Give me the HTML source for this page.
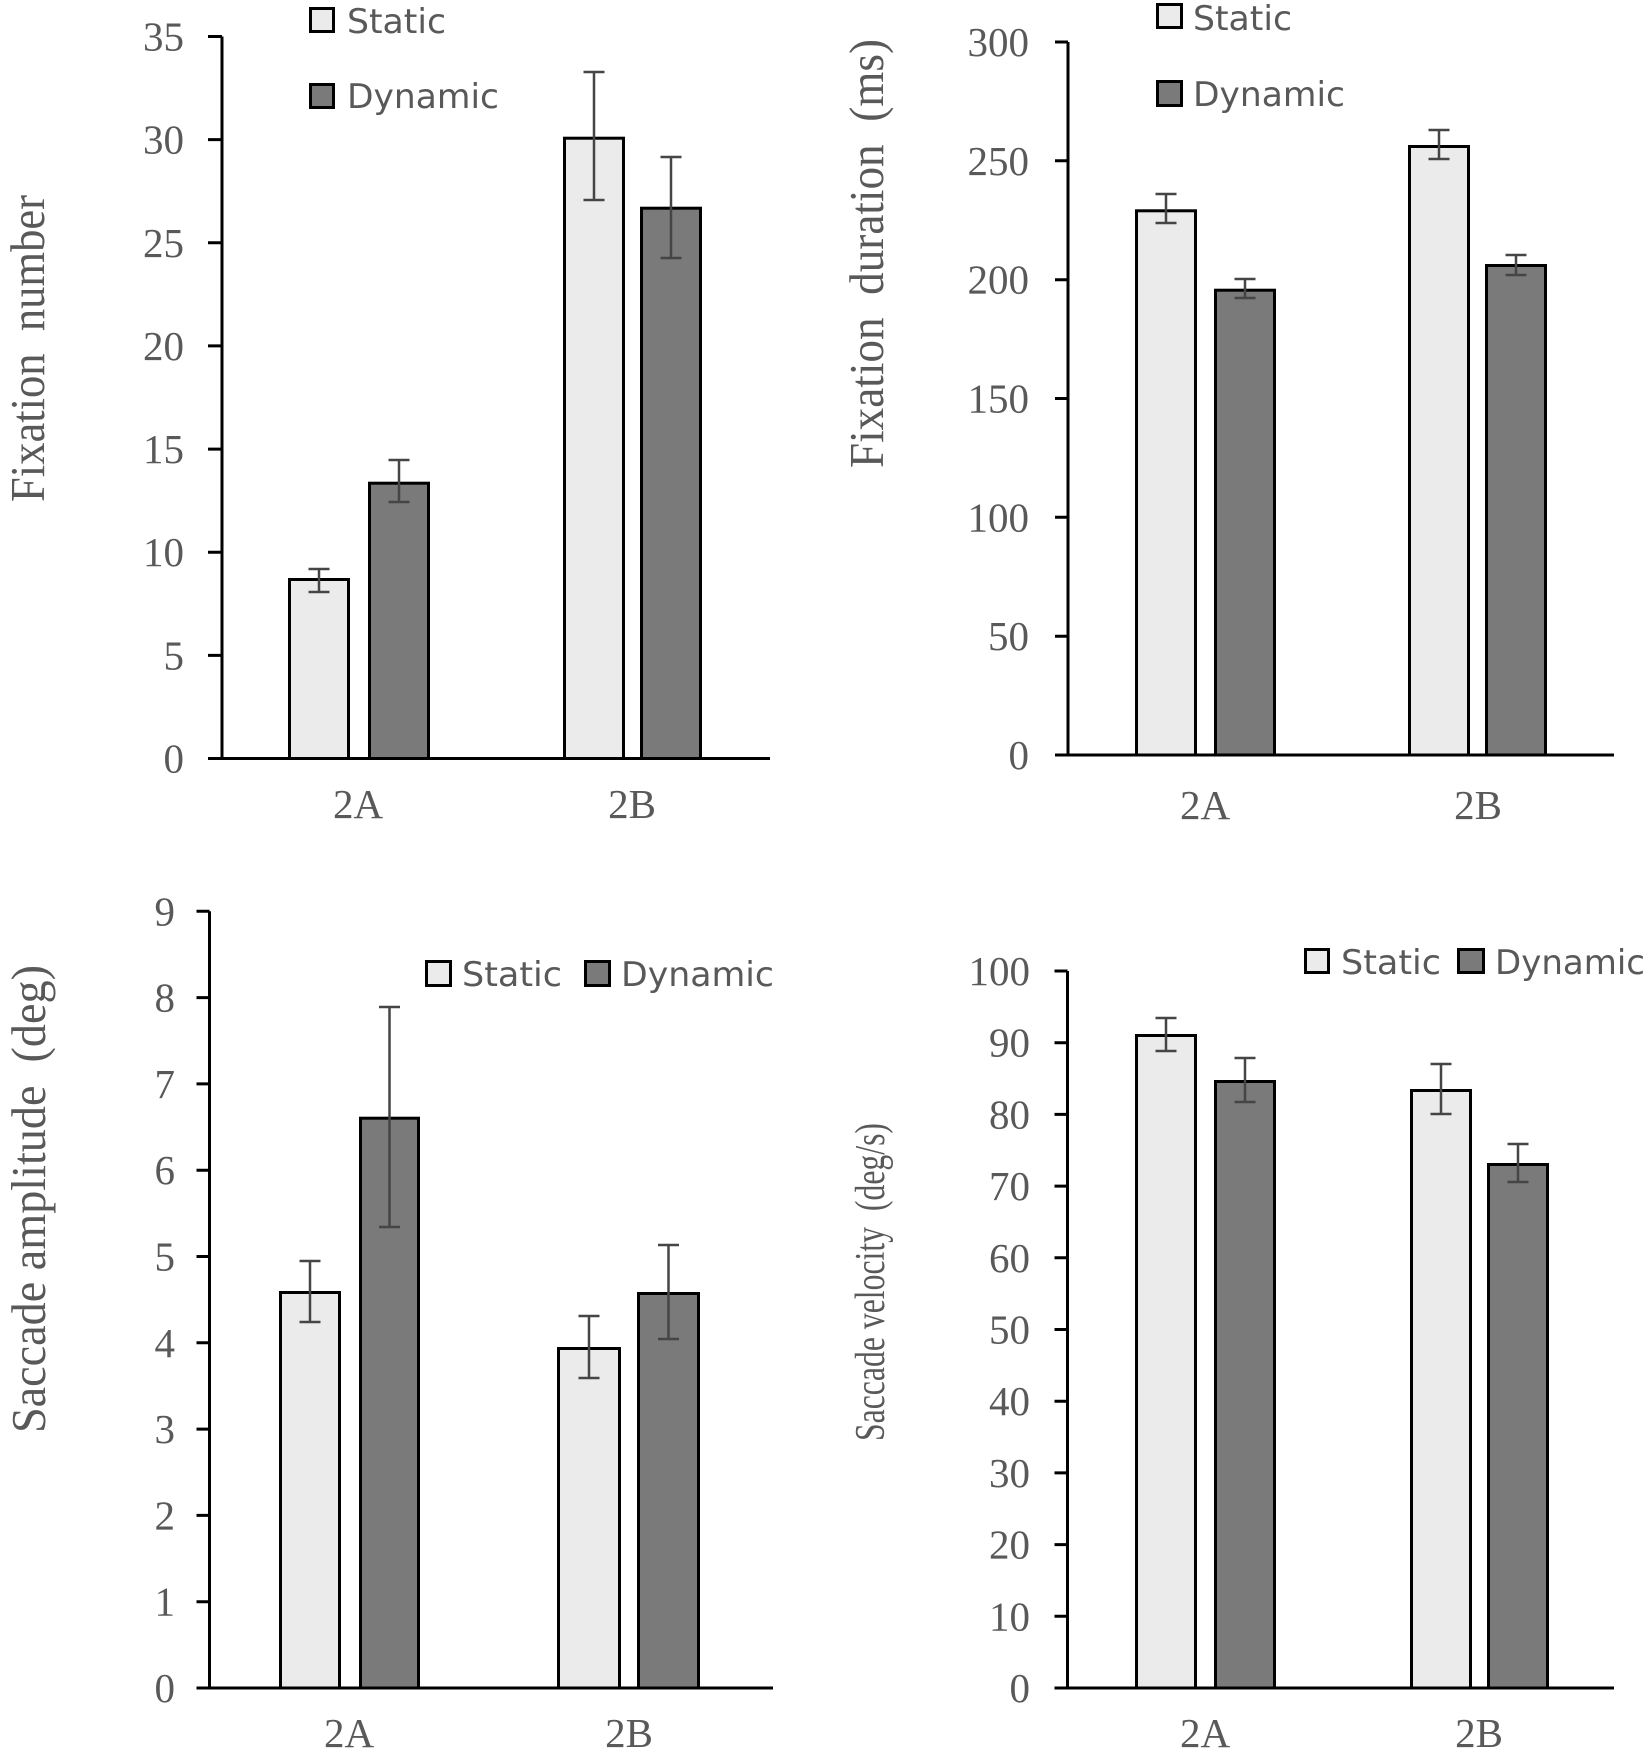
<!DOCTYPE html>
<html><head><meta charset="utf-8"><style>
html,body{margin:0;padding:0;background:#fff;}
svg{display:block;}
.tk{font-family:"Liberation Serif",serif;font-size:41px;fill:#595959;}
.ttl{font-family:"Liberation Serif",serif;font-size:49px;fill:#595959;white-space:pre;}
.lg{font-family:"DejaVu Sans","Liberation Sans",sans-serif;font-size:34px;fill:#595959;}
.ax{stroke:#000;stroke-width:3;fill:none;}
.bs{fill:#ebebeb;stroke:#000;stroke-width:3;}
.bd{fill:#7a7a7a;stroke:#000;stroke-width:3;}
.er{stroke:#454545;stroke-width:2.5;fill:none;}
</style></head><body>
<svg width="1650" height="1751" viewBox="0 0 1650 1751" xmlns="http://www.w3.org/2000/svg">
<rect width="1650" height="1751" fill="#fff"/>

<!-- ========== TOP-LEFT ========== -->
<g>
<text class="ttl" transform="translate(44,348.5) rotate(-90)" text-anchor="middle" textLength="307" lengthAdjust="spacingAndGlyphs">Fixation  number</text>
<g class="tk" text-anchor="end">
<text x="184" y="772.5">0</text>
<text x="184" y="669.4">5</text>
<text x="184" y="566.2">10</text>
<text x="184" y="463.1">15</text>
<text x="184" y="359.9">20</text>
<text x="184" y="256.8">25</text>
<text x="184" y="153.6">30</text>
<text x="184" y="50.5">35</text>
</g>
<rect class="bs" x="289.5" y="579.5" width="59" height="179"/>
<rect class="bd" x="369.5" y="483.2" width="59" height="275.3"/>
<rect class="bs" x="564.5" y="138.2" width="59" height="620.3"/>
<rect class="bd" x="641.5" y="208.2" width="59" height="550.3"/>
<path class="ax" d="M222 36.5 V758.5 M208 758.5 H770 M208 36.5 H222 M208 139.6 H222 M208 242.8 H222 M208 345.9 H222 M208 449.1 H222 M208 552.2 H222 M208 655.4 H222"/>
<path class="er" d="M319 569 V592 M308.5 569 H329.5 M308.5 592 H329.5"/>
<path class="er" d="M399 460 V502 M388.5 460 H409.5 M388.5 502 H409.5"/>
<path class="er" d="M594 72 V200 M583.5 72 H604.5 M583.5 200 H604.5"/>
<path class="er" d="M671 157 V258 M660.5 157 H681.5 M660.5 258 H681.5"/>
<g class="tk" text-anchor="middle">
<text x="358" y="818">2A</text>
<text x="632" y="818">2B</text>
</g>
<rect class="bs" x="310.5" y="8.5" width="23" height="23"/>
<text class="lg" x="347" y="33" textLength="99" lengthAdjust="spacingAndGlyphs">Static</text>
<rect class="bd" x="310.5" y="84.5" width="23" height="23"/>
<text class="lg" x="347" y="108" textLength="152" lengthAdjust="spacingAndGlyphs">Dynamic</text>
</g>

<!-- ========== TOP-RIGHT ========== -->
<g>
<text class="ttl" transform="translate(883,253.5) rotate(-90)" text-anchor="middle" textLength="429" lengthAdjust="spacingAndGlyphs">Fixation  duration  (ms)</text>
<g class="tk" text-anchor="end">
<text x="1029" y="769">0</text>
<text x="1029" y="650.2">50</text>
<text x="1029" y="531.3">100</text>
<text x="1029" y="412.5">150</text>
<text x="1029" y="293.7">200</text>
<text x="1029" y="174.8">250</text>
<text x="1029" y="56">300</text>
</g>
<rect class="bs" x="1136.5" y="210.8" width="59" height="544.2"/>
<rect class="bd" x="1215.5" y="290.2" width="59" height="464.8"/>
<rect class="bs" x="1409.5" y="146.5" width="59" height="608.5"/>
<rect class="bd" x="1486.5" y="265.5" width="59" height="489.5"/>
<path class="ax" d="M1068 42 V755 M1055 755 H1614 M1055 42 H1068 M1055 160.8 H1068 M1055 279.7 H1068 M1055 398.5 H1068 M1055 517.3 H1068 M1055 636.2 H1068"/>
<path class="er" d="M1166 194 V223 M1155.5 194 H1176.5 M1155.5 223 H1176.5"/>
<path class="er" d="M1245 279 V298 M1234.5 279 H1255.5 M1234.5 298 H1255.5"/>
<path class="er" d="M1439 130 V159 M1428.5 130 H1449.5 M1428.5 159 H1449.5"/>
<path class="er" d="M1516 255 V275 M1505.5 255 H1526.5 M1505.5 275 H1526.5"/>
<g class="tk" text-anchor="middle">
<text x="1205" y="819">2A</text>
<text x="1478" y="819">2B</text>
</g>
<rect class="bs" x="1157.5" y="4.5" width="24" height="23"/>
<text class="lg" x="1193" y="30" textLength="99" lengthAdjust="spacingAndGlyphs">Static</text>
<rect class="bd" x="1157.5" y="81.5" width="24" height="24"/>
<text class="lg" x="1193" y="106" textLength="152" lengthAdjust="spacingAndGlyphs">Dynamic</text>
</g>

<!-- ========== BOTTOM-LEFT ========== -->
<g>
<text class="ttl" transform="translate(45,1199) rotate(-90)" text-anchor="middle" textLength="468" lengthAdjust="spacingAndGlyphs">Saccade amplitude  (deg)</text>
<g class="tk" text-anchor="end">
<text x="175" y="1702">0</text>
<text x="175" y="1615.7">1</text>
<text x="175" y="1529.4">2</text>
<text x="175" y="1443.1">3</text>
<text x="175" y="1356.8">4</text>
<text x="175" y="1270.5">5</text>
<text x="175" y="1184.2">6</text>
<text x="175" y="1097.9">7</text>
<text x="175" y="1011.6">8</text>
<text x="175" y="925.3">9</text>
</g>
<rect class="bs" x="280.5" y="1292.5" width="59" height="395.5"/>
<rect class="bd" x="360.5" y="1118.2" width="58" height="569.8"/>
<rect class="bs" x="558.5" y="1348.5" width="61" height="339.5"/>
<rect class="bd" x="638.5" y="1293.5" width="60" height="394.5"/>
<path class="ax" d="M209.5 911.3 V1688 M196.5 1688 H773 M196.5 911.3 H209.5 M196.5 997.6 H209.5 M196.5 1083.9 H209.5 M196.5 1170.2 H209.5 M196.5 1256.5 H209.5 M196.5 1342.8 H209.5 M196.5 1429.1 H209.5 M196.5 1515.4 H209.5 M196.5 1601.7 H209.5"/>
<path class="er" d="M310 1261 V1322 M299.5 1261 H320.5 M299.5 1322 H320.5"/>
<path class="er" d="M389.5 1007 V1227 M379 1007 H400 M379 1227 H400"/>
<path class="er" d="M589 1316 V1378 M578.5 1316 H599.5 M578.5 1378 H599.5"/>
<path class="er" d="M668.5 1245 V1339 M658 1245 H679 M658 1339 H679"/>
<g class="tk" text-anchor="middle">
<text x="349" y="1747">2A</text>
<text x="629" y="1747">2B</text>
</g>
<rect class="bs" x="426.5" y="961.5" width="24" height="24"/>
<text class="lg" x="462" y="986" textLength="100" lengthAdjust="spacingAndGlyphs">Static</text>
<rect class="bd" x="585.5" y="961.5" width="24" height="24"/>
<text class="lg" x="621" y="986" textLength="153" lengthAdjust="spacingAndGlyphs">Dynamic</text>
</g>

<!-- ========== BOTTOM-RIGHT ========== -->
<g>
<text class="ttl" style="font-size:42px" transform="translate(884,1282) rotate(-90)" text-anchor="middle" textLength="318" lengthAdjust="spacingAndGlyphs">Saccade velocity  (deg/s)</text>
<g class="tk" text-anchor="end">
<text x="1030" y="1702">0</text>
<text x="1030" y="1630.3">10</text>
<text x="1030" y="1558.6">20</text>
<text x="1030" y="1486.9">30</text>
<text x="1030" y="1415.2">40</text>
<text x="1030" y="1343.5">50</text>
<text x="1030" y="1271.8">60</text>
<text x="1030" y="1200.1">70</text>
<text x="1030" y="1128.4">80</text>
<text x="1030" y="1056.7">90</text>
<text x="1030" y="985">100</text>
</g>
<rect class="bs" x="1136.5" y="1035.5" width="59" height="652.5"/>
<rect class="bd" x="1215.5" y="1081.5" width="59" height="606.5"/>
<rect class="bs" x="1411.5" y="1090.5" width="59" height="597.5"/>
<rect class="bd" x="1488.5" y="1164.5" width="59" height="523.5"/>
<path class="ax" d="M1067.5 971 V1688 M1054.5 1688 H1614 M1054.5 971 H1067.5 M1054.5 1042.7 H1067.5 M1054.5 1114.4 H1067.5 M1054.5 1186.1 H1067.5 M1054.5 1257.8 H1067.5 M1054.5 1329.5 H1067.5 M1054.5 1401.2 H1067.5 M1054.5 1472.9 H1067.5 M1054.5 1544.6 H1067.5 M1054.5 1616.3 H1067.5"/>
<path class="er" d="M1166 1018 V1051 M1155.5 1018 H1176.5 M1155.5 1051 H1176.5"/>
<path class="er" d="M1245 1058 V1102 M1234.5 1058 H1255.5 M1234.5 1102 H1255.5"/>
<path class="er" d="M1441 1064 V1114 M1430.5 1064 H1451.5 M1430.5 1114 H1451.5"/>
<path class="er" d="M1518 1144 V1182 M1507.5 1144 H1528.5 M1507.5 1182 H1528.5"/>
<g class="tk" text-anchor="middle">
<text x="1205" y="1747">2A</text>
<text x="1479" y="1747">2B</text>
</g>
<rect class="bs" x="1305.5" y="949.5" width="23" height="23"/>
<text class="lg" x="1341" y="974" textLength="100" lengthAdjust="spacingAndGlyphs">Static</text>
<rect class="bd" x="1458.5" y="949.5" width="25" height="23"/>
<text class="lg" x="1495" y="974" textLength="150" lengthAdjust="spacingAndGlyphs">Dynamic</text>
</g>
</svg>
</body></html>
